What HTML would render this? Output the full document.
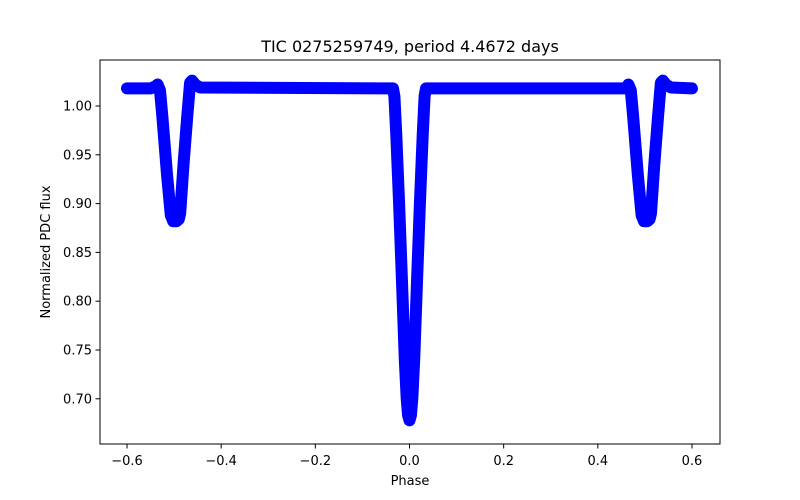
<!DOCTYPE html>
<html><head><meta charset="utf-8"><style>
body{margin:0;background:#fff;}
svg{display:block;font-family:"DejaVu Sans","Liberation Sans",sans-serif;}
</style></head><body>
<svg id="chart" width="800" height="500">
<rect width="800" height="500" fill="#fff"/>
<g id="plot"></g>
<rect x="100" y="60" width="620" height="384" fill="none" stroke="#000" stroke-width="1"/>
<g id="axes"></g>
<text x="410" y="52" text-anchor="middle" font-size="16">TIC 0275259749, period 4.4672 days</text>
<text x="410" y="485" text-anchor="middle" font-size="13">Phase</text>
<text transform="translate(50,252) rotate(-90)" text-anchor="middle" font-size="13">Normalized PDC flux</text>
</svg>
<script>
const phases = [-0.6,-0.55,-0.54,-0.535,-0.53,-0.525,-0.515,-0.507,-0.502,-0.495,-0.49,-0.487,-0.48,-0.472,-0.466,-0.462,-0.455,-0.445,-0.035,-0.032,-0.028,-0.022,-0.016,-0.01,-0.006,-0.003,0,0.003,0.006,0.01,0.016,0.022,0.028,0.032,0.035,0.46,0.465,0.47,0.475,0.485,0.493,0.498,0.505,0.51,0.513,0.52,0.528,0.534,0.538,0.545,0.555,0.6];
const fluxes = [1.018,1.018,1.020,1.022,1.016,0.99,0.93,0.888,0.882,0.882,0.884,0.89,0.94,0.99,1.024,1.026,1.022,1.019,1.018,1.01,0.97,0.9,0.82,0.74,0.7,0.683,0.678,0.683,0.7,0.74,0.82,0.9,0.97,1.01,1.018,1.018,1.022,1.016,0.99,0.93,0.888,0.882,0.882,0.884,0.89,0.94,0.99,1.024,1.026,1.022,1.019,1.018];
const xTicks = [-0.6,-0.4,-0.2,0,0.2,0.4,0.6];
const xTickLabels = ["−0.6","−0.4","−0.2","0.0","0.2","0.4","0.6"];
const yTicks = [0.70,0.75,0.80,0.85,0.90,0.95,1.00];
const yTickLabels = ["0.70","0.75","0.80","0.85","0.90","0.95","1.00"];
const xs = v => 409.5 + v*470.8;
const ys = v => 106 - (v-1.0)*976;
const NS="http://www.w3.org/2000/svg";
const plot=document.getElementById('plot'), axes=document.getElementById('axes');
const pl=document.createElementNS(NS,'polyline');
pl.setAttribute('points', phases.map((p,i)=>xs(p).toFixed(1)+','+ys(fluxes[i]).toFixed(1)).join(' '));
pl.setAttribute('fill','none');pl.setAttribute('stroke','#0000ff');pl.setAttribute('stroke-width','12');
pl.setAttribute('stroke-linejoin','round');pl.setAttribute('stroke-linecap','round');


plot.appendChild(pl);
xTicks.forEach((t,i)=>{
  const x=xs(t);
  const l=document.createElementNS(NS,'line');
  l.setAttribute('x1',x);l.setAttribute('x2',x);l.setAttribute('y1',444);l.setAttribute('y2',448.5);l.setAttribute('stroke','#000');
  
  
  axes.appendChild(l);
  const tx=document.createElementNS(NS,'text');
  tx.setAttribute('x',x);tx.setAttribute('y',465);tx.setAttribute('text-anchor','middle');tx.setAttribute('font-size','13');
  tx.textContent=xTickLabels[i];
  
  
  axes.appendChild(tx);
});
yTicks.forEach((t,i)=>{
  const y=ys(t);
  const l=document.createElementNS(NS,'line');
  l.setAttribute('x1',95.5);l.setAttribute('x2',100);l.setAttribute('y1',y);l.setAttribute('y2',y);l.setAttribute('stroke','#000');
  
  
  axes.appendChild(l);
  const tx=document.createElementNS(NS,'text');
  tx.setAttribute('x',92);tx.setAttribute('y',y+4.5);tx.setAttribute('text-anchor','end');tx.setAttribute('font-size','13');
  tx.textContent=yTickLabels[i];
  
  
  axes.appendChild(tx);
});
</script>
</body></html>
